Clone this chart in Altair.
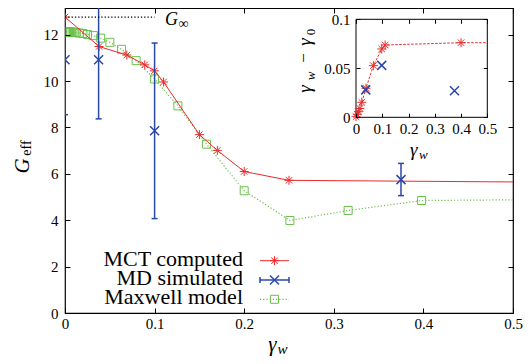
import altair as alt
import pandas as pd

# ---------------- data ----------------
mct_x = [0.0, 0.038, 0.069, 0.089, 0.0997, 0.110, 0.150, 0.170, 0.200, 0.250]
mct_y = [12.76, 11.49, 11.12, 10.70, 10.44, 9.96, 7.69, 7.01, 6.10, 5.72]
mct_tail_x = [0.5]
mct_tail_y = [5.65]

md_x = [0.0, 0.0375, 0.100, 0.375]
md_y = [10.92, 10.92, 7.86, 5.75]
md_lo = [8.55, 8.37, 4.07, 5.06]
md_hi = [13.29, 13.47, 11.64, 6.45]

mx_x = [0.001, 0.00126, 0.00158, 0.002, 0.00251, 0.00316, 0.00398, 0.00501,
        0.00631, 0.00794, 0.01, 0.0126, 0.0158, 0.02, 0.0251, 0.0316, 0.0398,
        0.0501, 0.0631, 0.0794, 0.1, 0.126, 0.158, 0.2, 0.251, 0.316, 0.398]
mx_y = [12.13, 12.13, 12.13, 12.13, 12.13, 12.13, 12.12, 12.12,
        12.12, 12.11, 12.10, 12.09, 12.07, 12.05, 12.01, 11.96, 11.85,
        11.67, 11.37, 10.88, 10.09, 8.93, 7.28, 5.27, 3.99, 4.42, 4.85]
mx_tail_x = [0.5]
mx_tail_y = [4.88]

g_inf = 12.76
g_inf_x = [0.0, 0.1]

ins_mct_x = [0.0, 0.005, 0.009, 0.015, 0.022, 0.038, 0.066, 0.098, 0.111, 0.400]
ins_mct_y = [0.0006, 0.003, 0.0057, 0.009, 0.0153, 0.0296, 0.0527, 0.0697, 0.0738, 0.0761]
ins_mct_tail_x = [0.5]
ins_mct_tail_y = [0.0762]

ins_md_x = [0.037, 0.098, 0.375]
ins_md_y = [0.028, 0.053, 0.027]

series_names = ["MCT computed", "MD simulated", "Maxwell model"]

main_x_ticks = [0, 0.1, 0.2, 0.3, 0.4, 0.5]
main_y_ticks = [0, 2, 4, 6, 8, 10, 12]
ins_x_ticks = [0, 0.1, 0.2, 0.3, 0.4, 0.5]
ins_y_ticks = [0, 0.05, 0.1]
main_x_dom = [0, 0.5]
main_y_dom = [0, 13.15]
ins_x_dom = [0, 0.5]
ins_y_dom = [0, 0.1]

# ---------------- styling ----------------
FONT = "Liberation Serif"
RED = "#ec2a2a"
BLUE = "#2a48a8"
GREEN = "#6cc04c"
W, H = 448, 305
INS_XR = [291, 422.3]
INS_YR = [109.3, 11.3]

ASTER = "M-1,0L1,0M0,-1L0,1M-0.72,-0.72L0.72,0.72M-0.72,0.72L0.72,-0.72"
XMARK = "M-1,-1L1,1M-1,1L1,-1"

# ---------------- tables ----------------
mct_df = pd.DataFrame({"x": mct_x, "y": mct_y})
mct_line_df = pd.DataFrame({"x": mct_x + mct_tail_x, "y": mct_y + mct_tail_y})
md_df = pd.DataFrame({"x": md_x, "y": md_y, "lo": md_lo, "hi": md_hi})
mx_df = pd.DataFrame({"x": mx_x, "y": mx_y})
mx_line_df = pd.DataFrame({"x": mx_x + mx_tail_x, "y": mx_y + mx_tail_y})
ginf_df = pd.DataFrame({"x0": [g_inf_x[0]], "x1": [g_inf_x[1]], "g": [g_inf]})
ins_mct_df = pd.DataFrame({"x": ins_mct_x, "y": ins_mct_y})
ins_mct_line_df = pd.DataFrame({"x": ins_mct_x + ins_mct_tail_x, "y": ins_mct_y + ins_mct_tail_y})
ins_md_df = pd.DataFrame({"x": ins_md_x, "y": ins_md_y})
box_df = pd.DataFrame({"x0": [ins_x_dom[0]], "x1": [ins_x_dom[1]],
                       "y0": [ins_y_dom[0]], "y1": [ins_y_dom[1]]})

xs = alt.Scale(domain=main_x_dom, nice=False, zero=False)
ys = alt.Scale(domain=main_y_dom, nice=False, zero=False)
ixs = alt.Scale(domain=ins_x_dom, range=INS_XR, nice=False, zero=False)
iys = alt.Scale(domain=ins_y_dom, range=INS_YR, nice=False, zero=False)

common_ax = dict(domain=False, grid=False, title=None, tickColor="black",
                 tickWidth=1, labelFont=FONT, labelFontSize=15,
                 labelColor="black", zindex=1)

ax_bottom = alt.Axis(orient="bottom", values=main_x_ticks, format=".1~f", offset=-5,
                     tickSize=5, labelPadding=3, labelFlush=False,
                     labelOverlap=False, **common_ax)
ax_top = alt.Axis(orient="top", values=main_x_ticks, offset=-5, tickSize=5,
                  labels=False, **common_ax)
ax_left = alt.Axis(orient="left", values=main_y_ticks, format="d", offset=-5,
                   tickSize=5, labelPadding=7, labelFlush=False, **common_ax)
ax_right = alt.Axis(orient="right", values=main_y_ticks, offset=-5, tickSize=5,
                    labels=False, **common_ax)

ins_bottom = alt.Axis(orient="bottom", values=ins_x_ticks, format=".1~f",
                      offset=(INS_YR[0] - 4) - H, tickSize=4, labelPadding=4.5,
                      labelFlush=False, labelOverlap=False, **common_ax)
ins_top = alt.Axis(orient="top", values=ins_x_ticks, offset=-(INS_YR[1] + 4),
                   tickSize=4, labels=False, **common_ax)
ins_left = alt.Axis(orient="left", values=ins_y_ticks, format=".2~f",
                    offset=-(INS_XR[0] + 4), tickSize=4, labelPadding=6,
                    labelFlush=False, labelOverlap=False, **common_ax)
ins_right = alt.Axis(orient="right", values=ins_y_ticks, offset=(INS_XR[1] - 4) - W,
                     tickSize=4, labels=False, **common_ax)


def X(field="x", axis=None, scale=xs):
    return alt.X(f"{field}:Q", scale=scale, axis=axis)


def Y(field="y", axis=None, scale=ys):
    return alt.Y(f"{field}:Q", scale=scale, axis=axis)


# ---------------- main panel ----------------
mct_line = alt.Chart(mct_line_df).mark_line(color=RED, strokeWidth=1, clip=True).encode(
    x=X(axis=ax_bottom), y=Y(axis=ax_left))
mct_pts = alt.Chart(mct_df).mark_point(shape=ASTER, size=81, color=RED, strokeWidth=1,
                                       filled=False, opacity=1, clip=True).encode(x=X(), y=Y())
mx_line = alt.Chart(mx_line_df).mark_line(color=GREEN, strokeWidth=1.2, strokeDash=[1.2, 2],
                                          clip=True).encode(x=X(axis=ax_top), y=Y(axis=ax_right))
mx_pts = alt.Chart(mx_df).mark_point(shape="square", size=64, color=GREEN, strokeWidth=1,
                                     filled=False, opacity=1, clip=True).encode(x=X(), y=Y())
md_rule = alt.Chart(md_df).mark_rule(color=BLUE, strokeWidth=1.5, clip=True).encode(
    x=X(), y=Y("lo"), y2="hi:Q")
md_cap_lo = alt.Chart(md_df).mark_tick(orient="horizontal", size=6, thickness=1.5,
                                       color=BLUE, opacity=1, clip=True).encode(x=X(), y=Y("lo"))
md_cap_hi = alt.Chart(md_df).mark_tick(orient="horizontal", size=6, thickness=1.5,
                                       color=BLUE, opacity=1, clip=True).encode(x=X(), y=Y("hi"))
md_pts = alt.Chart(md_df).mark_point(shape=XMARK, size=81, color=BLUE, strokeWidth=1.5,
                                     filled=False, opacity=1, clip=True).encode(x=X(), y=Y())
ginf_line = alt.Chart(ginf_df).mark_rule(color="black", strokeWidth=1.2,
                                         strokeDash=[1.3, 2]).encode(
    x=X("x0"), x2="x1:Q", y=Y("g"))

main = alt.layer(mx_line, mx_pts, mct_line, mct_pts, md_rule, md_cap_lo, md_cap_hi,
                 md_pts, ginf_line).resolve_axis(x="independent", y="independent")

# ---------------- inset ----------------
box = alt.Chart(box_df).mark_rect(fill="white", stroke="black", strokeWidth=1).encode(
    x=X("x0", axis=ins_bottom, scale=ixs), x2="x1:Q",
    y=Y("y0", axis=ins_left, scale=iys), y2="y1:Q")
ins_line = alt.Chart(ins_mct_line_df).mark_line(color=RED, strokeWidth=1,
                                                strokeDash=[2.5, 1.5]).encode(
    x=X(axis=ins_top, scale=ixs), y=Y(axis=ins_right, scale=iys))
ins_pts = alt.Chart(ins_mct_df).mark_point(shape=ASTER, size=81, color=RED, strokeWidth=1,
                                           filled=False, opacity=1).encode(
    x=X(scale=ixs), y=Y(scale=iys))
ins_md = alt.Chart(ins_md_df).mark_point(shape=XMARK, size=81, color=BLUE, strokeWidth=1.5,
                                         filled=False, opacity=1).encode(
    x=X(scale=ixs), y=Y(scale=iys))

inset = alt.layer(box, ins_line, ins_pts, ins_md).resolve_axis(x="independent", y="independent")


# ---------------- text / legend ----------------
def txt(text, x, y, size, italic=False, align="left", baseline="alphabetic", angle=0):
    d = pd.DataFrame({"t": [text]})
    return alt.Chart(d).mark_text(font=FONT, fontSize=size,
                                  fontStyle="italic" if italic else "normal",
                                  align=align, baseline=baseline, angle=angle,
                                  color="black").encode(
        x=alt.value(x), y=alt.value(y), text="t:N")


texts = [
    # G_infinity label
    txt("G", 100, 16.5, 18, italic=True),
    txt("\u221e", 113.5, 20, 14),
    # main x title
    txt("\u03b3", 203.3, 343, 21, italic=True),
    txt("w", 212.5, 345.5, 15, italic=True),
    # main y title
    txt("G", -42.5, 158, 21, italic=True, align="center", baseline="middle", angle=270),
    txt("eff", -38.5, 140, 14, align="center", baseline="middle", angle=270),
    # inset x title
    txt("\u03b3", 345, 147.5, 19, italic=True),
    txt("w", 354, 150.5, 13, italic=True),
    # inset y title
    txt("\u03b3", 240, 81, 19, italic=True, align="center", baseline="middle", angle=270),
    txt("w", 245.5, 68, 13, italic=True, align="center", baseline="middle", angle=270),
    txt("\u2212", 239, 50, 17, align="center", baseline="middle", angle=270),
    txt("\u03b3", 240, 34, 19, italic=True, align="center", baseline="middle", angle=270),
    txt("0", 245.5, 24, 13, align="center", baseline="middle", angle=270),
]

leg_rows = [252.7, 272.0, 291.3]
leg_base = [257.5, 276.5, 296.0]
LX0, LX1, LXM, LTX = 195, 224, 209.5, 178
leg = []
for name, yb in zip(series_names, leg_base):
    leg.append(txt(name, LTX, yb, 22, align="right"))

one = pd.DataFrame({"k": [0]})
# MCT sample
leg.append(alt.Chart(one).mark_rule(color=RED, strokeWidth=1).encode(
    x=alt.value(LX0), x2=alt.value(LX1), y=alt.value(leg_rows[0])))
leg.append(alt.Chart(one).mark_point(shape=ASTER, size=81, color=RED, strokeWidth=1,
                                     filled=False, opacity=1).encode(
    x=alt.value(LXM), y=alt.value(leg_rows[0])))
# MD sample
leg.append(alt.Chart(one).mark_rule(color=BLUE, strokeWidth=1.5).encode(
    x=alt.value(LX0), x2=alt.value(LX1), y=alt.value(leg_rows[1])))
for cx in (LX0, LX1):
    leg.append(alt.Chart(one).mark_rule(color=BLUE, strokeWidth=1.5).encode(
        x=alt.value(cx), y=alt.value(leg_rows[1] - 3), y2=alt.value(leg_rows[1] + 3)))
leg.append(alt.Chart(one).mark_point(shape=XMARK, size=81, color=BLUE, strokeWidth=1.5,
                                     filled=False, opacity=1).encode(
    x=alt.value(LXM), y=alt.value(leg_rows[1])))
# Maxwell sample
leg.append(alt.Chart(one).mark_rule(color=GREEN, strokeWidth=1.2, strokeDash=[1.2, 2]).encode(
    x=alt.value(LX0), x2=alt.value(LX1), y=alt.value(leg_rows[2])))
leg.append(alt.Chart(one).mark_point(shape="square", size=64, color=GREEN, strokeWidth=1,
                                     filled=False, opacity=1).encode(
    x=alt.value(LXM), y=alt.value(leg_rows[2])))

chart = alt.layer(main, inset, *texts, *leg).resolve_scale(
    x="independent", y="independent").resolve_axis(
    x="independent", y="independent").properties(
    width=W, height=H,
    padding={"left": 57, "top": 0, "right": 10, "bottom": 45},
    autosize=alt.AutoSizeParams(type="none"),
).configure_view(stroke="black", strokeWidth=1.2)

chart.save("out.html", embed_options={"renderer": "svg", "actions": False})
